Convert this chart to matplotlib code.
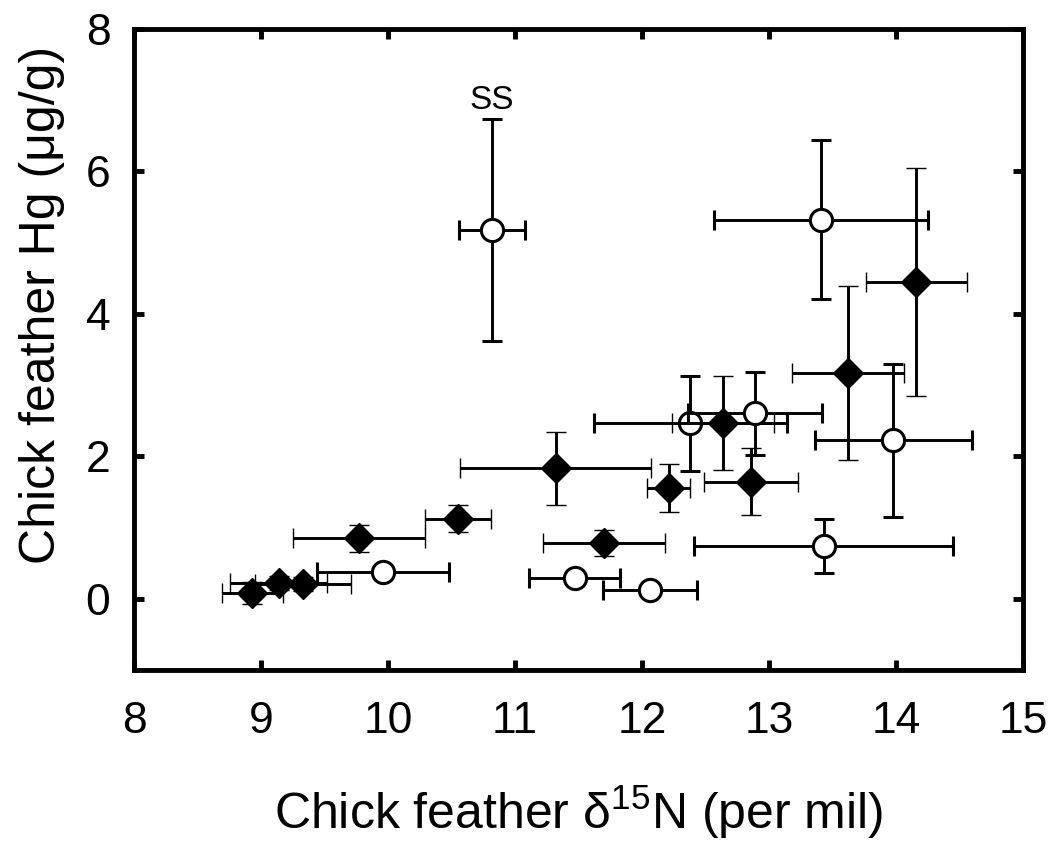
import matplotlib
matplotlib.use("Agg")
import matplotlib.pyplot as plt

plt.rcParams["font.family"] = ["Liberation Sans", "DejaVu Sans"]
plt.rcParams["mathtext.fontset"] = "custom"
plt.rcParams["mathtext.rm"] = "Liberation Sans"
plt.rcParams["mathtext.default"] = "regular"

# filled diamonds
dia_x = [8.93, 9.14, 9.33, 9.77, 10.55, 11.32, 11.70, 12.21, 12.64, 12.86, 13.62, 14.16]
dia_xerr = [0.24, 0.38, 0.38, 0.52, 0.26, 0.75, 0.48, 0.17, 0.40, 0.37, 0.44, 0.40]
dia_y = [0.08, 0.22, 0.21, 0.85, 1.12, 1.83, 0.78, 1.55, 2.46, 1.64, 3.17, 4.45]
dia_yerr = [0.15, 0.10, 0.10, 0.19, 0.19, 0.51, 0.18, 0.34, 0.66, 0.47, 1.22, 1.60]

# open circles
circ_x = [9.96, 10.82, 11.47, 12.06, 12.38, 12.89, 13.41, 13.43, 13.98]
circ_xerr = [0.52, 0.26, 0.36, 0.37, 0.76, 0.53, 0.84, 1.02, 0.62]
circ_y = [0.37, 5.17, 0.29, 0.12, 2.46, 2.60, 5.32, 0.74, 2.22]
circ_yerr = [0.0, 1.56, 0.0, 0.0, 0.67, 0.58, 1.12, 0.38, 1.07]

x_ticks = [8, 9, 10, 11, 12, 13, 14, 15]
y_ticks = [0, 2, 4, 6, 8]

fig = plt.figure(figsize=(10.54, 8.44), dpi=100)
ax = fig.add_axes([0.1271, 0.2062, 0.8435, 0.7600])

# one errorbar call per point, ordered by x, so later bars lie over earlier markers
pts = [(x, xe, y, ye, "D") for x, xe, y, ye in zip(dia_x, dia_xerr, dia_y, dia_yerr)]
pts += [(x, xe, y, ye, "o") for x, xe, y, ye in zip(circ_x, circ_xerr, circ_y, circ_yerr)]
pts.sort(key=lambda p: p[0])

for i, (x, xe, y, ye, m) in enumerate(pts):
    if m == "D":
        style = dict(marker="D", ms=15, mfc="black", mec="black", mew=1)
    else:
        style = dict(marker="o", ms=16, mfc="white", mec="black", mew=2.2)
    ax.errorbar(x, y, xerr=xe, yerr=ye, linestyle="none", ecolor="black",
                elinewidth=2.1, capsize=7, capthick=2.1, zorder=3 + i, **style)

ax.text(10.82, 6.99, "SS", fontsize=24, ha="center", va="center")

ax.set_xlim(8, 15)
ax.set_ylim(-1, 8)
ax.set_xticks(x_ticks)
ax.set_yticks(y_ticks)

for s in ax.spines.values():
    s.set_linewidth(3.5)
ax.tick_params(direction="in", length=7, width=3.5, top=True, right=True,
               labelsize=32)
ax.tick_params(axis="x", pad=22)
ax.tick_params(axis="y", pad=17)

ax.set_xlabel(r"Chick feather δ$^{15}$N (per mil)", fontsize=36, labelpad=30)
fig.text(42 / 1054, 1 - 305 / 844, "Chick feather Hg (μg/g)", fontsize=36,
         rotation=90, ha="center", va="center")

fig.savefig("out.png", dpi=100)
